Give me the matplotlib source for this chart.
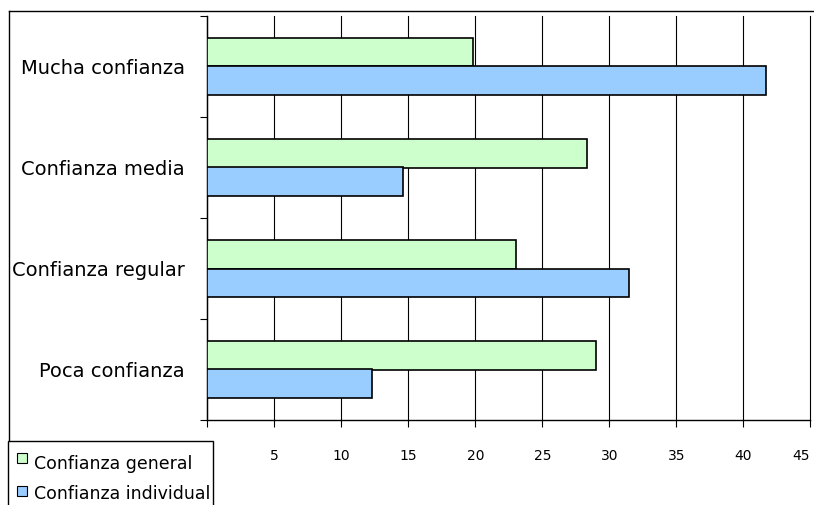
import matplotlib
matplotlib.use('Agg')
import numpy as np
import matplotlib.pyplot as plt
from matplotlib.patches import Rectangle
from matplotlib.lines import Line2D

categories = ['Poca confianza', 'Confianza regular', 'Confianza media', 'Mucha confianza']
series_names = ['Confianza general', 'Confianza individual']
general = [29.0, 23.0, 28.3, 19.8]
individual = [12.3, 31.5, 14.6, 41.7]
xticks = [0, 5, 10, 15, 20, 25, 30, 35, 40, 45]
colors = ['#CCFFCC', '#99CCFF']

W, H = 814, 505
plt.rcParams['font.family'] = ['DejaVu Sans']
fig = plt.figure(figsize=(W / 100, H / 100), dpi=100)
ax = fig.add_axes([207.3 / W, 85 / H, 603 / W, 404 / H])
ax.set_xlim(0, 45)
ax.set_ylim(-0.5, 3.5)

h = 0.287
y = np.arange(len(categories))
ax.barh(y + h / 2, general, height=h, color=colors[0], edgecolor='black', linewidth=1.2, zorder=3)
ax.barh(y - h / 2, individual, height=h, color=colors[1], edgecolor='black', linewidth=1.2, zorder=3)

ax.set_xticks(xticks)
ax.set_xticklabels([str(v) for v in xticks], fontsize=10)
ax.xaxis.grid(True, color='black', linewidth=0.8)
for gl in ax.get_xgridlines():
    gl.set_clip_on(False)
ax.set_axisbelow(True)
ax.tick_params(axis='x', direction='out', length=5, width=0.8, pad=16)
# keep the last tick label inside the picture
ax.get_xticklabels()[-1].set_ha('right')

ax.set_yticks(y)
ax.set_yticklabels(categories, fontsize=14)
ax.tick_params(axis='y', which='major', length=0, pad=16)
ax.set_yticks(np.arange(-0.5, len(categories), 1), minor=True)
ax.tick_params(axis='y', which='minor', length=5, width=0.8)

for s in ['top', 'right']:
    ax.spines[s].set_visible(False)
for s in ['left', 'bottom']:
    ax.spines[s].set_linewidth(1.0)

# outer chart border
fig.add_artist(Line2D([9 / W, 1], [1 - 11 / H] * 2, transform=fig.transFigure, color='black', lw=1.0))
fig.add_artist(Line2D([9 / W, 9 / W], [0, 1 - 11 / H], transform=fig.transFigure, color='black', lw=1.0))

# legend box
fig.add_artist(Rectangle((8 / W, -0.05), (213 - 8) / W, (1 - 441 / H) + 0.05,
                         transform=fig.transFigure, facecolor='white', edgecolor='black',
                         lw=1.0, zorder=10))
for i, (name, c) in enumerate(zip(series_names, colors)):
    my = 453 + 33 * i
    ty = 464 + 30 * i
    fig.add_artist(Rectangle((17 / W, 1 - (my + 10) / H), 10 / W, 10 / H,
                             transform=fig.transFigure, facecolor=c, edgecolor='black',
                             lw=0.8, zorder=11))
    fig.text(34 / W, 1 - ty / H, name, fontsize=12.5, va='center', ha='left', zorder=12)

fig.savefig('out.png', dpi=100)
